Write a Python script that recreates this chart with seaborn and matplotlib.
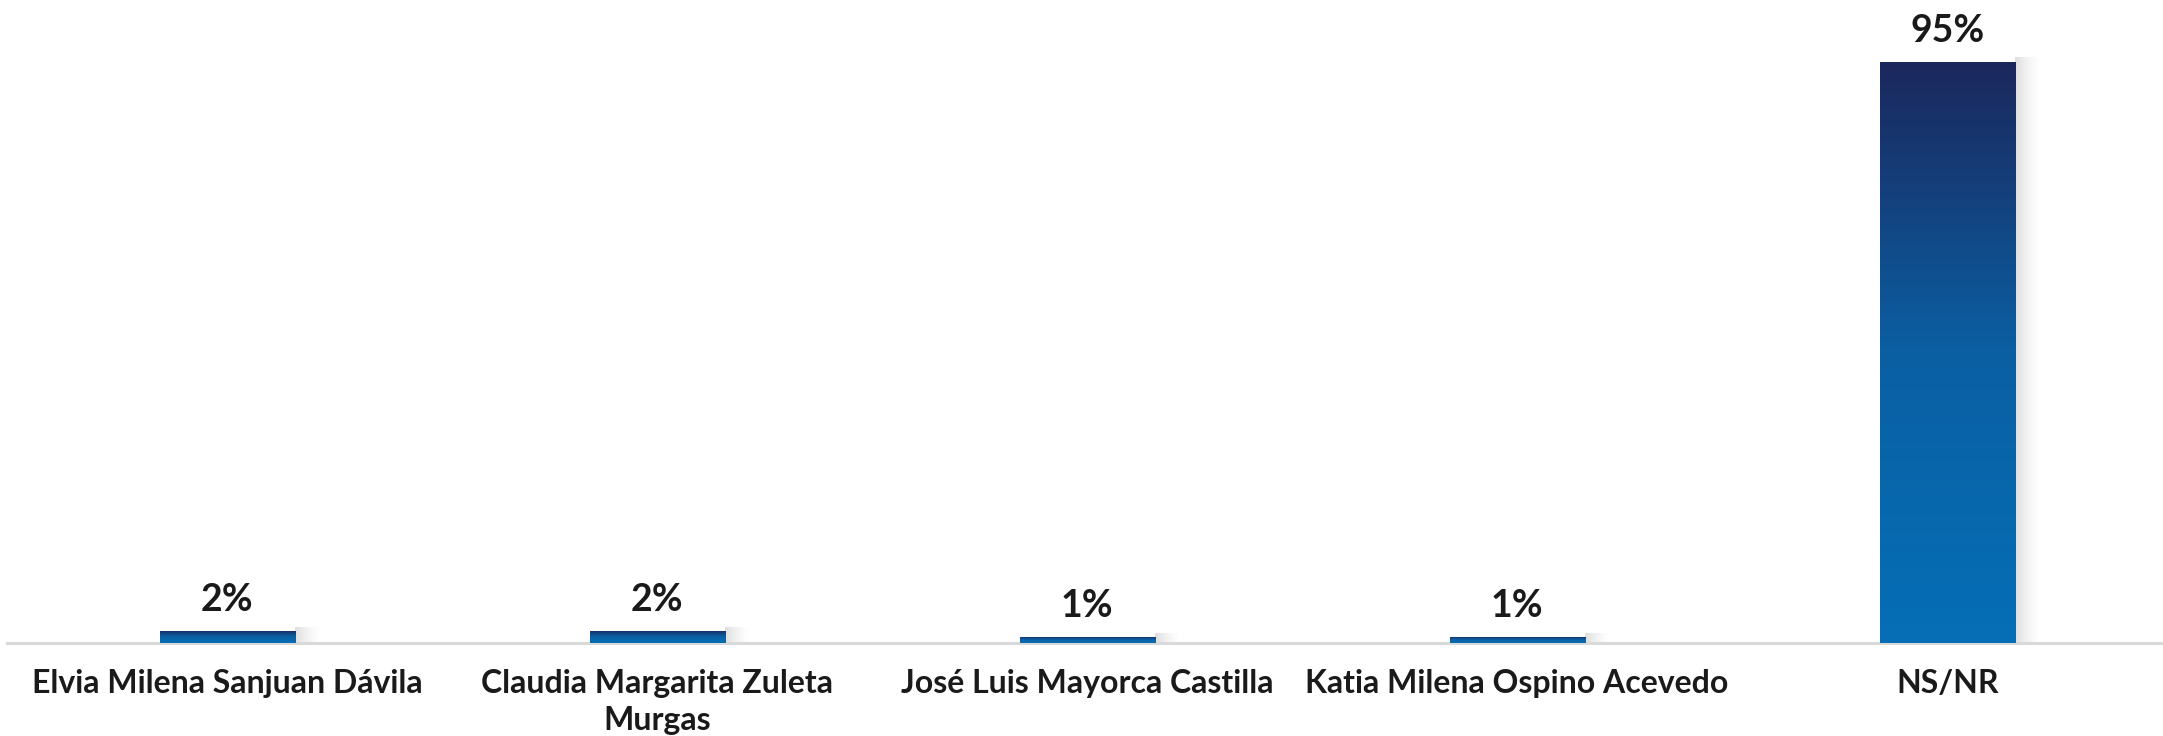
import numpy as np
import pandas as pd
import matplotlib
matplotlib.use("Agg")
import matplotlib.pyplot as plt
import seaborn as sns
from matplotlib.colors import LinearSegmentedColormap

# Survey results: share of respondents per candidate
candidates = [
    "Elvia Milena Sanjuan Dávila",
    "Claudia Margarita Zuleta\nMurgas",
    "José Luis Mayorca Castilla",
    "Katia Milena Ospino Acevedo",
    "NS/NR",
]
shares = [2, 2, 1, 1, 95]
share_labels = ["2%", "2%", "1%", "1%", "95%"]

df = pd.DataFrame({"candidate": candidates, "share": shares})

sns.set_theme(style="white")
plt.rcParams["font.family"] = ["Lato", "DejaVu Sans"]

fig = plt.figure(figsize=(21.63, 7.36), dpi=100)
ax = fig.add_axes([0.0032, 0.1264, 0.9968, 0.8316])

sns.barplot(data=df, x="candidate", y="share", width=0.314,
            color="#0a6db3", ax=ax, saturation=1)

xlim = (-0.512, 4.502)
ylim = (0, 100)

# vertical navy-to-blue gradient inside each bar, plus a soft shadow on the right
grad_cmap = LinearSegmentedColormap.from_list("bar", ["#1b275c", "#0b5fa3", "#056fb6"])
grad = np.linspace(0, 1, 256).reshape(-1, 1)
shadow = np.linspace(1, 0, 64).reshape(1, -1)
for patch in ax.patches:
    x0, y0 = patch.get_x(), patch.get_y()
    w, h = patch.get_width(), patch.get_height()
    sh = np.zeros((1, 64, 4))
    sh[..., :3] = 0.35
    sh[..., 3] = 0.2 * shadow ** 1.5
    ax.imshow(sh, extent=[x0 + w, x0 + w + 0.06, y0, y0 + h + 0.6],
              aspect="auto", zorder=1, interpolation="bilinear")
    im = ax.imshow(grad, extent=[x0, x0 + w, y0, y0 + h], aspect="auto",
                   cmap=grad_cmap, vmin=0, vmax=1, zorder=3,
                   interpolation="bilinear")
    im.set_clip_path(patch)
    patch.set_facecolor("none")
    patch.set_edgecolor("none")

ax.set_xlim(*xlim)
ax.set_ylim(*ylim)

# value labels above the bars
for i, (v, lab) in enumerate(zip(shares, share_labels)):
    ax.annotate(lab, (i, v), xytext=(0, 10), textcoords="offset points",
                ha="center", va="bottom", fontsize=27, fontweight="bold",
                color="#1a1a1a")

for s in ["top", "right", "left"]:
    ax.spines[s].set_visible(False)
ax.spines["bottom"].set_color("#d9d9d9")
ax.spines["bottom"].set_linewidth(2.2)
ax.set_yticks([])
ax.set_xlabel("")
ax.set_ylabel("")
ax.tick_params(axis="x", length=0, pad=19)
for t in ax.get_xticklabels():
    t.set_fontsize(23)
    t.set_fontweight("bold")
    t.set_color("#1a1a1a")
    t.set_linespacing(1.33)
    t.set_verticalalignment("top")

fig.savefig("out.png", dpi=100, facecolor="white")
